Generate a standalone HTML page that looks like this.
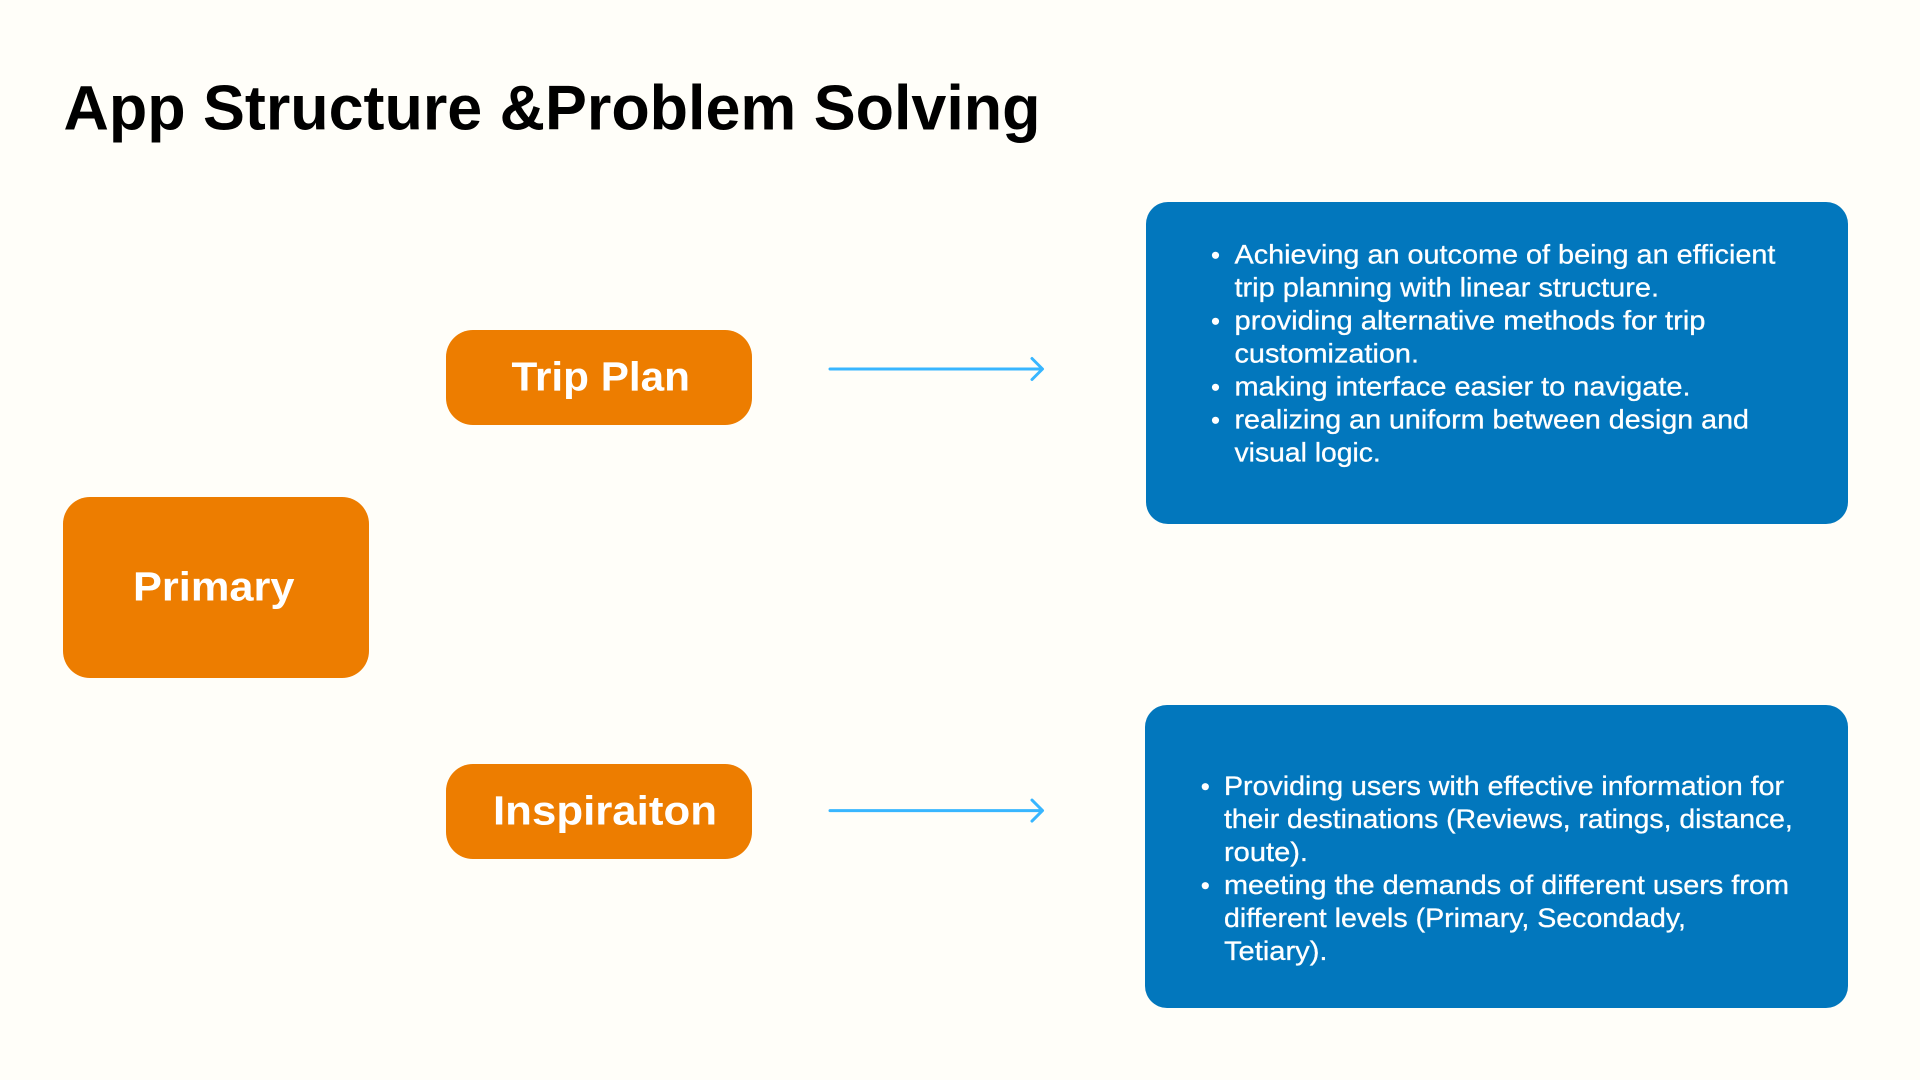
<!DOCTYPE html>
<html lang="en">
<head>
<meta charset="utf-8">
<title>App Structure &amp; Problem Solving</title>
<style>
html,body{margin:0;padding:0;background:#fffef9;width:1920px;height:1080px;overflow:hidden}
svg{display:block}
text{font-family:"Liberation Sans",sans-serif}
.h{font-weight:700;fill:#fff;font-size:41px}
.b{font-size:27px;fill:#fff;stroke:#fff;stroke-width:.3px}
</style>
</head>
<body>
<svg xmlns="http://www.w3.org/2000/svg" width="1920" height="1080" viewBox="0 0 1920 1080">
<rect width="1920" height="1080" fill="#fffef9"/>
<text x="63.5" y="129.3" font-size="63" font-weight="700" fill="#000" textLength="977" lengthAdjust="spacingAndGlyphs">App Structure &amp;Problem Solving</text>

<rect x="63" y="497" width="306" height="181" rx="27" fill="#ed7d00"/>
<text class="h" x="133" y="600.7" textLength="161.5" lengthAdjust="spacingAndGlyphs">Primary</text>

<rect x="446" y="330" width="306" height="95" rx="27" fill="#ed7d00"/>
<text class="h" x="511.5" y="390.7" textLength="178.5" lengthAdjust="spacingAndGlyphs">Trip Plan</text>

<rect x="446" y="764" width="306" height="95" rx="27" fill="#ed7d00"/>
<text class="h" x="493" y="824.7" textLength="224" lengthAdjust="spacingAndGlyphs">Inspiraiton</text>

<g fill="none" stroke="#38b6ff" stroke-width="3" stroke-linecap="round" stroke-linejoin="round">
<path d="M830 369H1042M1032 358.5L1042.5 369L1032 379.5"/>
<path d="M830 810.6H1042M1032 800.1L1042.5 810.6L1032 821.1"/>
</g>

<rect x="1146" y="202" width="702" height="322" rx="22" fill="#0277bd"/>
<g fill="#fff">
<circle cx="1215.5" cy="255.3" r="3.6"/>
<circle cx="1215.5" cy="321.3" r="3.6"/>
<circle cx="1215.5" cy="387.3" r="3.6"/>
<circle cx="1215.5" cy="420.3" r="3.6"/>
</g>
<text class="b" x="1234.5" y="263.6" textLength="540.9" lengthAdjust="spacingAndGlyphs">Achieving an outcome of being an efficient</text>
<text class="b" x="1234.5" y="296.6" textLength="424.5" lengthAdjust="spacingAndGlyphs">trip planning with linear structure.</text>
<text class="b" x="1234.5" y="329.6" textLength="471" lengthAdjust="spacingAndGlyphs">providing alternative methods for trip</text>
<text class="b" x="1234.5" y="362.6" textLength="184.5" lengthAdjust="spacingAndGlyphs">customization.</text>
<text class="b" x="1234.5" y="395.6" textLength="456" lengthAdjust="spacingAndGlyphs">making interface easier to navigate.</text>
<text class="b" x="1234.5" y="428.6" textLength="514.5" lengthAdjust="spacingAndGlyphs">realizing an uniform between design and</text>
<text class="b" x="1234.5" y="461.6" textLength="146.3" lengthAdjust="spacingAndGlyphs">visual logic.</text>

<rect x="1145" y="705" width="703" height="303" rx="22" fill="#0277bd"/>
<g fill="#fff">
<circle cx="1205.3" cy="786.7" r="3.6"/>
<circle cx="1205.3" cy="885.7" r="3.6"/>
</g>
<text class="b" x="1224" y="795" textLength="560" lengthAdjust="spacingAndGlyphs">Providing users with effective information for</text>
<text class="b" x="1224" y="827.9" textLength="568.8" lengthAdjust="spacingAndGlyphs">their destinations (Reviews, ratings, distance,</text>
<text class="b" x="1224" y="860.9" textLength="84" lengthAdjust="spacingAndGlyphs">route).</text>
<text class="b" x="1224" y="893.9" textLength="565" lengthAdjust="spacingAndGlyphs">meeting the demands of different users from</text>
<text class="b" x="1224" y="926.9" textLength="462" lengthAdjust="spacingAndGlyphs">different levels (Primary, Secondady,</text>
<text class="b" x="1224" y="959.9" textLength="103.5" lengthAdjust="spacingAndGlyphs">Tetiary).</text>
</svg>
</body>
</html>
